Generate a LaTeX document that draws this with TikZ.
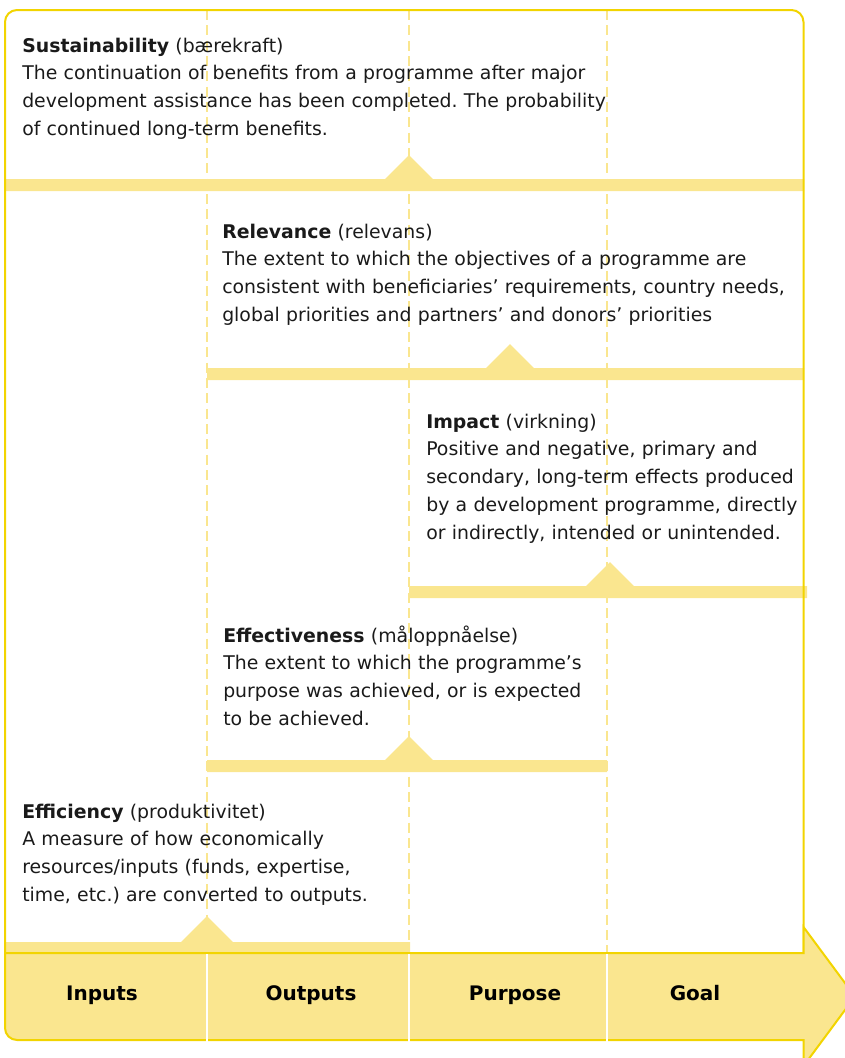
\documentclass[tikz,border=0pt]{standalone}
\usepackage{fontspec}
\setmainfont{DejaVu Sans}
\frenchspacing
\definecolor{bandyellow}{HTML}{FAE68F}
\definecolor{edgeyellow}{HTML}{F2D400}
\definecolor{inkgray}{HTML}{1A1A1A}

\begin{document}
\begin{tikzpicture}[x=0.75pt, y=-0.75pt,
  crit/.style={anchor=base west, inner sep=0pt, text width=450pt, align=left,
    text=inkgray, font=\fontsize{14.15}{20.85}\selectfont},
  stage/.style={anchor=base, inner sep=0pt, text=black,
    font=\fontsize{15}{16}\selectfont\bfseries},
  guide/.style={bandyellow, line width=1.5pt, dash pattern=on 7.5pt off 4pt},
  band/.style={fill=bandyellow},
  edge/.style={draw=edgeyellow, line width=1.5pt},
  divider/.style={white, line width=1.5pt}]
  \useasboundingbox (0,0) rectangle (844,1058);

  % column guides
  \draw[guide] (207,10) -- (207,953);
  \draw[guide] (409,10) -- (409,953);
  \draw[guide] (607,10) -- (607,953);

  % bands
  \fill[band] (5,179) -- (385,179) -- (409,155) -- (433,179) -- (804,179)
    -- (804,191) -- (5,191) -- cycle;
  \fill[band] (207,368) -- (486,368) -- (510,344) -- (534,368) -- (804,368)
    -- (804,380) -- (207,380) -- cycle;
  \fill[band] (409,586) -- (586,586) -- (610,562) -- (634,586) -- (807,586)
    -- (807,598) -- (409,598) -- cycle;
  \fill[band] (207,760) -- (385,760) -- (409,736) -- (433,760) -- (607,760)
    -- (607,772) -- (207,772) -- cycle;
  \fill[band] (5,942) -- (181,942) -- (207,916) -- (233,942) -- (410,942)
    -- (410,953) -- (5,953) -- cycle;

  % frame
  \draw[edge, rounded corners=9pt] (5,953) -- (5,10) -- (803.5,10) -- (803.5,953);

  % arrow
  \filldraw[band, edge] (5,1000) -- (5,953) -- (803.5,953) -- (803.5,927)
    -- (855,996.5) -- (803.5,1066) -- (803.5,1040) -- (17,1040)
    arc[start angle=90, end angle=180, radius=12] -- cycle;
  \draw[divider] (207,954) -- (207,1042);
  \draw[divider] (409,954) -- (409,1042);
  \draw[divider] (607,954) -- (607,1042);

  % criteria
  \node[crit] (sust) at (22,52) {\textbf{Sustainability} (bærekraft)\\
    The continuation of benefits from a programme after major\\
    development assistance has been completed. The probability\\
    of continued long-term benefits.};
  \node[crit] (relev) at (222,238) {\textbf{Relevance} (relevans)\\
    The extent to which the objectives of a programme are\\
    consistent with beneficiaries’ requirements, country needs,\\
    global priorities and partners’ and donors’ priorities};
  \node[crit] (impact) at (426,428) {\textbf{Impact} (virkning)\\
    Positive and negative, primary and\\
    secondary, long-term effects produced\\
    by a development programme, directly\\
    or indirectly, intended or unintended.};
  \node[crit] (effect) at (223,642) {\textbf{Effectiveness} (måloppnåelse)\\
    The extent to which the programme’s\\
    purpose was achieved, or is expected\\
    to be achieved.};
  \node[crit] (effic) at (22,818) {\textbf{Efficiency} (produktivitet)\\
    A measure of how economically\\
    resources/inputs (funds, expertise,\\
    time, etc.) are converted to outputs.};

  % stages
  \node[stage] (inputs) at (102,1000) {Inputs};
  \node[stage] (outputs) at (311,1000) {Outputs};
  \node[stage] (purpose) at (515,1000) {Purpose};
  \node[stage] (goal) at (695,1000) {Goal};
\end{tikzpicture}
\end{document}
